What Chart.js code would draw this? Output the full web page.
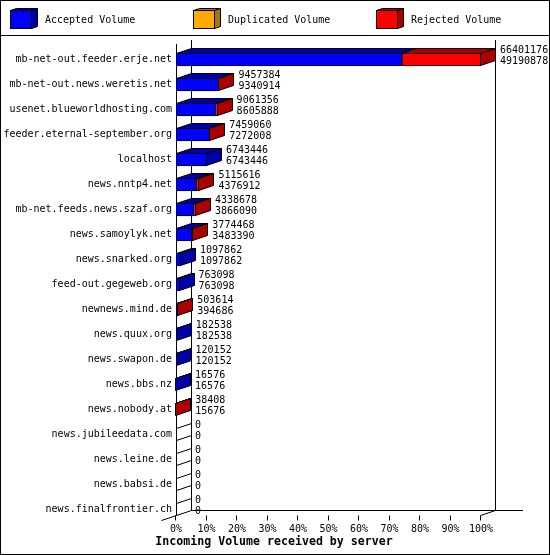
<!DOCTYPE html>
<html>
<head>
<meta charset="utf-8">
<title>Incoming Volume</title>
<script src="https://cdn.jsdelivr.net/npm/chart.js@4/dist/chart.umd.min.js"></script>
<style>
    html, body { margin: 0; padding: 0; background: #fff; }
    canvas { display: block; }
</style>
</head>
<body>
<canvas id="chart" width="550" height="555"></canvas>
<script>
const servers = [
    'mb-net-out.feeder.erje.net', 'mb-net-out.news.weretis.net', 'usenet.blueworldhosting.com',
    'feeder.eternal-september.org', 'localhost', 'news.nntp4.net', 'mb-net.feeds.news.szaf.org',
    'news.samoylyk.net', 'news.snarked.org', 'feed-out.gegeweb.org', 'newnews.mind.de',
    'news.quux.org', 'news.swapon.de', 'news.bbs.nz', 'news.nobody.at', 'news.jubileedata.com',
    'news.leine.de', 'news.babsi.de', 'news.finalfrontier.ch'
];
const accepted = [49190878, 9340914, 8605888, 7272008, 6743446, 4376912, 3866090, 3483390,
    1097862, 763098, 394686, 182538, 120152, 16576, 15676, 0, 0, 0, 0];
const duplicated = [0, 0, 0, 0, 0, 0, 0, 0, 0, 0, 0, 0, 0, 0, 0, 0, 0, 0, 0];
const rejected = [17210298, 116470, 455468, 187052, 0, 738704, 472588, 291078,
    0, 0, 108928, 0, 0, 0, 22732, 0, 0, 0, 0];
const totals = [66401176, 9457384, 9061356, 7459060, 6743446, 5115616, 4338678, 3774468,
    1097862, 763098, 503614, 182538, 120152, 16576, 38408, 0, 0, 0, 0];
const percentTicks = [0, 10, 20, 30, 40, 50, 60, 70, 80, 90, 100];
const maxVolume = 66401176;
const chartTitle = 'Incoming Volume received by server';

const FONT = '"DejaVu Sans Mono", monospace';
const DX = 15; // profundidad 3D
const DY = 5;

// Colores: cara frontal y cara oscura
const shades = {
    'Accepted Volume': { front: '#0000ff', dark: '#0000aa' },
    'Duplicated Volume': { front: '#ffaa00', dark: '#aa7700' },
    'Rejected Volume': { front: '#ff0000', dark: '#aa0000' }
};

function poly(ctx, pts, fill) {
    ctx.beginPath();
    pts.forEach((p, i) => i ? ctx.lineTo(p[0], p[1]) : ctx.moveTo(p[0], p[1]));
    ctx.closePath();
    if (fill) {
        ctx.fillStyle = fill;
        ctx.fill();
    }
    ctx.stroke();
}

function line(ctx, x1, y1, x2, y2) {
    ctx.beginPath();
    ctx.moveTo(x1, y1);
    ctx.lineTo(x2, y2);
    ctx.stroke();
}

// Marco, leyenda y paredes del grafico
const framePlugin = {
    id: 'frame',
    beforeDatasetsDraw(chart) {
        const ctx = chart.ctx;
        const xs = chart.scales.x;
        const left = xs.getPixelForValue(0) + 0.5;
        const right = xs.getPixelForValue(maxVolume) - 0.5;
        const base = 515.5;
        ctx.save();
        ctx.strokeStyle = '#000';
        ctx.lineWidth = 1;

        ctx.strokeRect(0.5, 0.5, 549, 554);
        line(ctx, 0, 35.5, 550, 35.5);

        line(ctx, left, 44, left, base);
        line(ctx, left + DX, 40, left + DX, base - DY);
        line(ctx, right + DX, 40, right + DX, base - DY);
        line(ctx, left + DX, base - DY, 523, base - DY);
        line(ctx, left - 15, base + 5, left, base);
        line(ctx, right, base, right + DX, base - DY);

        percentTicks.forEach(t => {
            const x = Math.floor(xs.getPixelForValue(t / 100 * maxVolume) - 0.01) + 0.5;
            line(ctx, x, base, x, base + 5);
        });

        // Filas sin volumen: solo se ve la sombra sobre la pared
        const ys = chart.scales.y;
        totals.forEach((v, i) => {
            if (v > 0) return;
            const c = ys.getPixelForValue(i);
            line(ctx, left, c - 6, left + DX, c - 6 - DY);
            line(ctx, left, c + 6, left + DX, c + 6 - DY);
        });

        // Leyenda
        const legendX = [10, 193, 376];
        chart.data.datasets.forEach((ds, i) => {
            const x = legendX[i] + 0.5;
            const c = shades[ds.label];
            ctx.fillStyle = c.front;
            ctx.fillRect(x, 10.5, 21, 18);
            ctx.strokeRect(x, 10.5, 21, 18);
            poly(ctx, [[x, 10.5], [x + 6, 8.5], [x + 27, 8.5], [x + 21, 10.5]], c.dark);
            poly(ctx, [[x + 21, 10.5], [x + 27, 8.5], [x + 27, 26.5], [x + 21, 28.5]], c.dark);
            ctx.fillStyle = '#000';
            ctx.font = '10px ' + FONT;
            ctx.textAlign = 'left';
            ctx.textBaseline = 'middle';
            ctx.fillText(ds.label, x + 34.5, 20);
        });

        // Titulo centrado en toda la imagen, no solo en el area del grafico
        ctx.fillStyle = '#000';
        ctx.font = 'bold 11.6px ' + FONT;
        ctx.textAlign = 'center';
        ctx.textBaseline = 'middle';
        ctx.fillText(chartTitle, 274, 541.5);
        ctx.restore();
    },
    afterDatasetsDraw(chart) {
        const ctx = chart.ctx;
        const left = chart.scales.x.getPixelForValue(0) + 0.5;
        ctx.save();
        ctx.strokeStyle = '#000';
        ctx.lineWidth = 1;
        servers.forEach((name, row) => {
            if (totals[row] === 0) return;
            let start = left;
            let lastDark = null;
            let top = 0;
            let bottom = 0;
            chart.data.datasets.forEach((ds, d) => {
                if (ds.data[row] === 0) return;
                const bar = chart.getDatasetMeta(d).data[row];
                const end = Math.round(bar.x) - 0.5;
                top = bar.y - 6;
                bottom = bar.y + 6;
                const dark = shades[ds.label].dark;
                poly(ctx, [[start, top], [start + DX, top - DY], [end + DX, top - DY], [end, top]], dark);
                start = end;
                lastDark = dark;
            });
            poly(ctx, [[start, top], [start + DX, top - DY], [start + DX, bottom - DY], [start, bottom]], lastDark);
        });

        // Valores a la derecha de cada barra
        ctx.fillStyle = '#000';
        ctx.font = '10px ' + FONT;
        ctx.textAlign = 'left';
        ctx.textBaseline = 'middle';
        const xs = chart.scales.x;
        const ys = chart.scales.y;
        servers.forEach((name, row) => {
            const x = xs.getPixelForValue(totals[row]) + DX + 4;
            const c = ys.getPixelForValue(row);
            ctx.fillText(String(totals[row]), x, c - 9.5);
            ctx.fillText(String(accepted[row]), x, c + 1.5);
        });
        ctx.restore();
    }
};

new Chart(document.getElementById('chart').getContext('2d'), {
    type: 'bar',
    data: {
        labels: servers,
        datasets: [
            { label: 'Accepted Volume', data: accepted, backgroundColor: '#0000ff' },
            { label: 'Duplicated Volume', data: duplicated, backgroundColor: '#ffaa00' },
            { label: 'Rejected Volume', data: rejected, backgroundColor: '#ff0000' }
        ].map(ds => ({ ...ds, borderColor: '#000', borderWidth: 1, barThickness: 13, borderSkipped: false }))
    },
    options: {
        indexAxis: 'y',
        responsive: false,
        animation: false,
        devicePixelRatio: 1,
        layout: { padding: { top: 47, right: 69, left: 0, bottom: 0 } },
        plugins: {
            legend: { display: false },
            tooltip: { enabled: false }
        },
        scales: {
            x: {
                stacked: true,
                min: 0,
                max: maxVolume,
                afterBuildTicks(scale) {
                    scale.ticks = percentTicks.map(t => ({ value: t / 100 * maxVolume, label: t + '%' }));
                },
                afterFit(scale) { scale.height = 33; },
                grid: { display: false, drawTicks: false },
                border: { display: false },
                ticks: {
                    autoSkip: false,
                    maxRotation: 0,
                    padding: 1,
                    color: '#000',
                    font: { family: FONT, size: 10 },
                    callback(value) { return Math.round(value / maxVolume * 100) + '%'; }
                }
            },
            y: {
                stacked: true,
                afterFit(scale) { scale.width = 176; },
                grid: { display: false, drawTicks: false },
                border: { display: false },
                ticks: {
                    autoSkip: false,
                    padding: 4,
                    color: '#000',
                    font: { family: FONT, size: 10 }
                }
            }
        }
    },
    plugins: [framePlugin]
});
</script>
</body>
</html>
